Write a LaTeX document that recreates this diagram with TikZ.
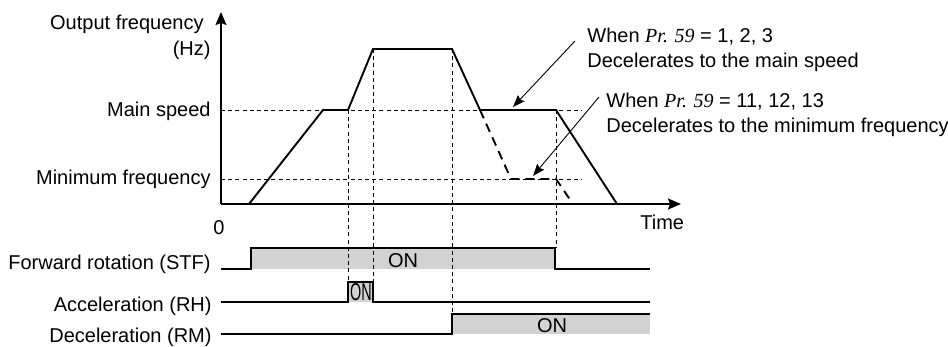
\documentclass[tikz,border=0pt]{standalone}
\usepackage{fontspec}
\setmainfont{Liberation Sans}
\newfontfamily\timesfont{Liberation Serif}
\usetikzlibrary{arrows.meta}
\begin{document}
\begin{tikzpicture}[x=0.5pt,y=-0.5pt,
  font=\fontsize{10}{12}\selectfont,
  wave/.style={line width=0.95pt, line join=miter},
  guide/.style={line width=0.45pt, dash pattern=on 2pt off 1.6pt},
  alt/.style={line width=0.95pt, dash pattern=on 4.5pt off 3pt},
  axis/.style={line width=0.95pt, -{Stealth[length=6.5pt,width=5.5pt,inset=1pt]}},
  callout/.style={line width=0.45pt, -{Stealth[length=6pt,width=4.5pt,inset=0.8pt]}},
  lbl/.style={inner sep=0pt, anchor=base east},
  note/.style={inner sep=0pt, anchor=base west},
  onfill/.style={fill=gray!35, draw=none}]
\useasboundingbox (0,0) rectangle (948,347);
\newcommand\prpar{{\timesfont\itshape Pr. 59}}
% ---- key coordinates of the frequency curve
\coordinate (o) at (221,204);
\coordinate (ytip) at (221,12);
\coordinate (xtip) at (681,204);
\coordinate (s0) at (249,204);
\coordinate (m1) at (323,110);
\coordinate (m2) at (348,110);
\coordinate (t1) at (373,49);
\coordinate (t2) at (452,49);
\coordinate (m3) at (480,110);
\coordinate (m4) at (556,110);
\coordinate (e1) at (617,204);
\coordinate (n1) at (511,179);
\coordinate (n2) at (556,179);
\coordinate (e2) at (573,204);
% ---- signal fills
\fill[onfill] (251,248) rectangle (555,269);
\fill[onfill] (348,282) rectangle (373,302);
\fill[onfill] (452,314) rectangle (650,334);
% ---- guide lines
\coordinate (msL) at (221,110); \coordinate (msR) at (582,110);
\coordinate (mfL) at (221,179); \coordinate (mfR) at (582,179);
\draw[guide] (msL) -- (msR);
\draw[guide] (mfL) -- (mfR);
\coordinate (rhA) at (348,282); \coordinate (rhB) at (373,282);
\coordinate (rmA) at (452,314); \coordinate (stB) at (556,248);
\draw[guide] (m2) -- (rhA);
\draw[guide] (t1) -- (rhB);
\draw[guide] (t2) -- (rmA);
\draw[guide] (m4) -- (stB);
% ---- axes
\draw[axis] (o) -- (ytip);
\draw[axis] (o) -- (xtip);
% ---- frequency curve
\draw[wave] (s0) -- (m1) -- (m2) -- (t1) -- (t2) -- (m3) -- (m4) -- (e1);
\draw[alt] (m3) -- (n1) -- (n2) -- (e2);
% ---- signals
\draw[wave] (221,269) -- (251,269) -- (251,248) -- (555,248) -- (555,269) -- (650,269);
\draw[wave] (221,302) -- (348,302) -- (348,282) -- (373,282) -- (373,302) -- (650,302);
\draw[wave] (221,334) -- (452,334) -- (452,314) -- (650,314);
% ---- labels
\node[lbl] (lof) at (204,30) {Output frequency};
\node[lbl] (lhz) at (211,56) {(Hz)};
\node[lbl] (lms) at (211,117) {Main speed};
\node[lbl] (lmf) at (211,185) {Minimum frequency};
\node[inner sep=0pt, anchor=base] (lzero) at (219,235) {0};
\node[note] (ltime) at (640,230) {Time};
\node[lbl] (lstf) at (211,270) {Forward rotation (STF)};
\node[lbl] (lrh) at (212,312) {Acceleration (RH)};
\node[lbl] (lrm) at (212,343) {Deceleration (RM)};
\node[inner sep=0pt, anchor=base] (on1) at (403,268) {ON};
\node[inner sep=0pt, anchor=base] (on2) at (361,301) {\scalebox{0.72}[1.22]{ON}};
\node[inner sep=0pt, anchor=base] (on3) at (552,333) {ON};
% ---- annotations
\node[note] (a1) at (587,43) {When \prpar{} = 1, 2, 3};
\node[note] (a2) at (587,68) {Decelerates to the main speed};
\node[note] (b1) at (606,108) {When \prpar{} = 11, 12, 13};
\node[note] (b2) at (606,133) {Decelerates to the minimum frequency};
\coordinate (c1s) at (575,41); \coordinate (c1e) at (513,107);
\coordinate (c2s) at (599,97); \coordinate (c2e) at (533,176);
\draw[callout] (c1s) -- (c1e);
\draw[callout] (c2s) -- (c2e);
\end{tikzpicture}
\end{document}
